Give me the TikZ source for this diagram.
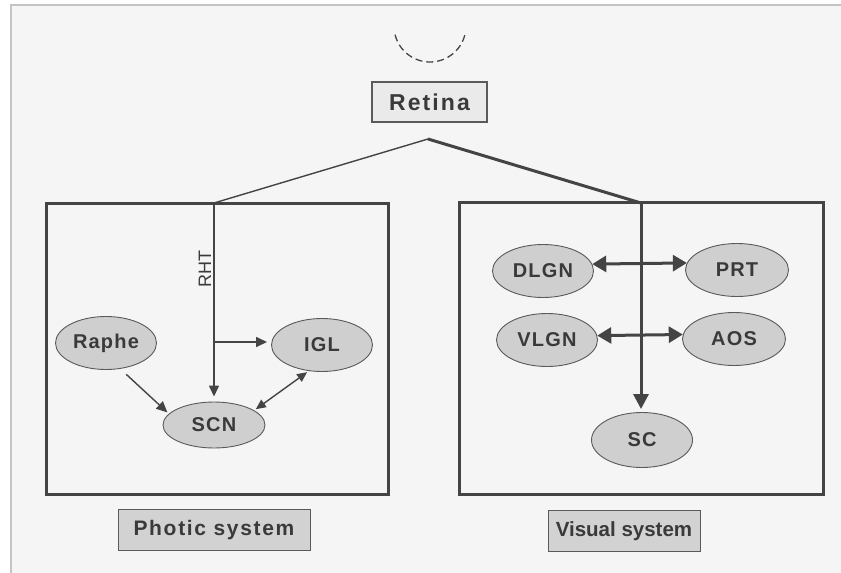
\documentclass[tikz,border=0pt]{standalone}
\usepackage{fontspec}
\setmainfont{Liberation Sans}
\usetikzlibrary{arrows.meta,shapes.geometric}
\definecolor{bgcol}{HTML}{F5F5F5}
\definecolor{framecol}{HTML}{C4C4C4}
\definecolor{inkcol}{HTML}{3A3A3A}
\definecolor{linecol}{HTML}{444444}
\definecolor{ellfill}{HTML}{CFCFCF}
\definecolor{ellline}{HTML}{5A5A5A}
\definecolor{retfill}{HTML}{EAEAEA}
\definecolor{sysfill}{HTML}{D2D2D2}
\tikzset{
  nucleus/.style={ellipse, draw=ellline, line width=0.9pt, fill=ellfill,
    minimum width=101pt, minimum height=53pt, inner sep=0pt, text=inkcol,
    font=\fontsize{20}{22}\selectfont\bfseries\addfontfeatures{LetterSpace=6}},
  sysbox/.style={draw=linecol, line width=3pt},
  tagbox/.style={draw=ellline, line width=1pt, fill=sysfill, text=inkcol,
    inner sep=0pt, font=\fontsize{21}{23}\selectfont\bfseries},
  thinline/.style={draw=linecol, line width=1.4pt},
  thickline/.style={draw=linecol, line width=3pt},
  thintip/.style={-{Triangle[length=11pt,width=10pt]}},
  thinboth/.style={{Triangle[length=10pt,width=9pt]}-{Triangle[length=10pt,width=9pt]}},
  thicktip/.style={-{Triangle[length=15pt,width=15pt]}},
  thickboth/.style={{Triangle[length=14pt,width=16pt]}-{Triangle[length=14pt,width=16pt]}},
}
\begin{document}
\begin{tikzpicture}[x=1pt,y=-1pt]
\useasboundingbox (0,0) rectangle (841,573);
\fill[white] (0,0) rectangle (841,573);
\fill[bgcol] (11,5) rectangle (841,573);
\draw[framecol, line width=1.3pt] (11,573) -- (11,5) -- (841,5);

% eye arc
\draw[linecol, line width=1.3pt, dash pattern=on 7pt off 4pt] (430,26) ++(166:36) arc[start angle=166, end angle=14, radius=36];

% retina
\node[draw=ellline, line width=1.2pt, fill=retfill, text=inkcol, minimum width=115pt, minimum height=40pt, inner sep=0pt,
  font=\fontsize{23}{25}\selectfont\bfseries\addfontfeatures{LetterSpace=9}] (retina) at (429.5,102) {Retina};

% system boxes
\draw[sysbox] (46,203) rectangle (388,494);
\draw[sysbox] (459,202) rectangle (823,494);

\node[tagbox, minimum width=192pt, minimum height=41pt, font=\fontsize{21}{23}\selectfont\bfseries\addfontfeatures{LetterSpace=8}] (photic) at (214,530) {Photic system};
\node[tagbox, minimum width=152pt, minimum height=41pt, font=\fontsize{20.5}{23}\selectfont\bfseries] (visual) at (624,531) {Visual system};

% nuclei
\node[nucleus] (raphe) at (106,343) {Raphe};
\node[nucleus] (igl) at (322,345) {IGL};
\node[nucleus, minimum height=46pt, minimum width=102pt] (scn) at (214,425) {SCN};
\node[nucleus] (dlgn) at (543,271) {DLGN};
\node[nucleus, minimum width=103pt] (prt) at (737,270) {PRT};
\node[nucleus] (vlgn) at (547,340) {VLGN};
\node[nucleus, minimum width=103pt] (aos) at (734,339) {AOS};
\node[nucleus, minimum height=55pt] (sc) at (642,440) {SC};

% tracts
\coordinate (apex) at (428,139);
\coordinate (lsplit) at (214,203);
\coordinate (rsplit) at (641,203);
\coordinate (branch) at (214,342);
\draw[thinline, line join=round] (apex) -- (lsplit);
\draw[thinline, thintip, shorten >=5pt] (lsplit) -- (scn.north);
\draw[thinline, thintip, shorten >=4pt] (branch) -- (igl.west |- branch);
\draw[thickline, line join=round] (apex) -- (rsplit);
\draw[thickline, thicktip, shorten >=3pt] (rsplit) -- (rsplit |- sc.north);

\node[text=inkcol, rotate=90, inner sep=0pt, font=\fontsize{18}{20}\selectfont] (rht) at (205,269) {RHT};

\draw[thinline, thintip, shorten <=8pt, shorten >=2pt] (raphe.-61) -- (scn.166);
\draw[thinline, thinboth, shorten <=2pt, shorten >=2pt] (scn.20) -- (igl.243);

\draw[thickline, thickboth] (dlgn.8) -- (prt.172);
\draw[thickline, thickboth] (vlgn.5) -- (aos.175);
\end{tikzpicture}
\end{document}
